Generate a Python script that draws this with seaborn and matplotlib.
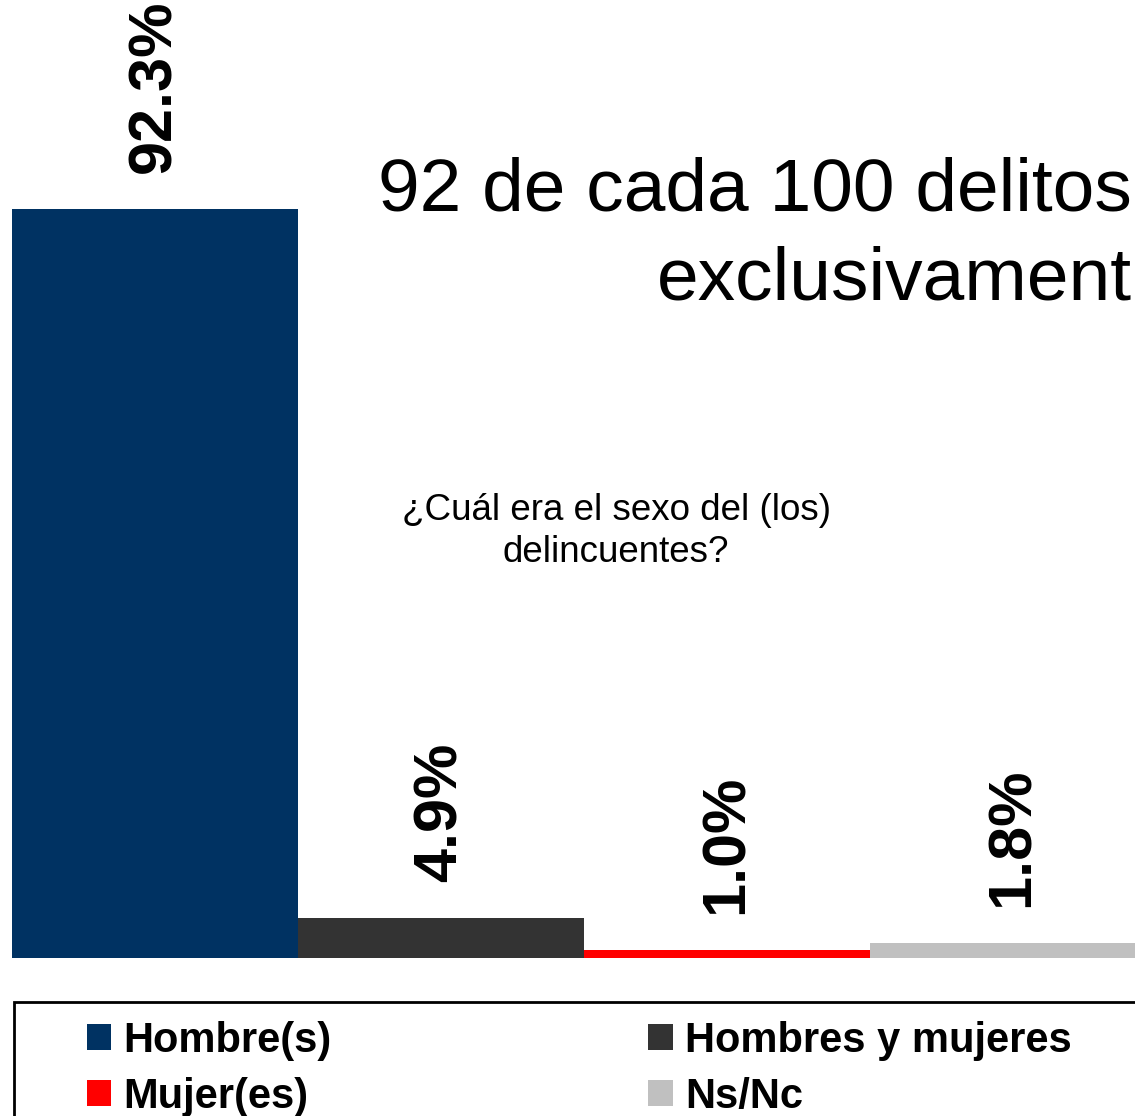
import matplotlib
matplotlib.use("Agg")
import matplotlib.pyplot as plt
from matplotlib.patches import Patch, Rectangle
import seaborn as sns
import pandas as pd

# Data
categories = ["Hombre(s)", "Hombres y mujeres", "Mujer(es)", "Ns/Nc"]
values = [92.3, 4.9, 1.0, 1.8]
colors = ["#003262", "#333333", "#FF0000", "#C0C0C0"]
title_lines = ["92 de cada 100 delitos", "exclusivament"]
question_lines = ["¿Cuál era el sexo del (los)", "delincuentes?"]

sns.set_style("white")
plt.rcParams["font.family"] = ["Liberation Sans", "DejaVu Sans"]
plt.rcParams["text.color"] = "black"

W, H = 1135, 1116
fig = plt.figure(figsize=(W / 100, H / 100), dpi=100)
ax = fig.add_axes([12 / W, 158 / H, 1144 / W, 811.5 / H])

df = pd.DataFrame({"cat": categories, "val": values})
sns.barplot(data=df, x="cat", y="val", hue="cat", palette=colors,
            width=1.0, saturation=1, legend=False, linewidth=0, ax=ax)

ax.set_xlim(-0.5, 3.5)
ax.set_ylim(0, 100)
ax.set_xlabel("")
ax.set_ylabel("")
ax.set_xticks([])
ax.set_yticks([])
for s in ax.spines.values():
    s.set_visible(False)

# rotated value labels above bars
for i, v in enumerate(values):
    ax.annotate(f"{v}%", xy=(i, v), xytext=(0, 26), textcoords="offset points",
                rotation=90, ha="center", va="bottom", fontsize=44,
                fontweight="bold", color="black", annotation_clip=False)

# headline text, right aligned and cut at the edge
fig.text(1132 / W, 1 - 210 / H, title_lines[0], ha="right", va="baseline", fontsize=54)
fig.text(1132 / W, 1 - 300 / H, title_lines[1], ha="right", va="baseline", fontsize=54)

# question text
fig.text(616 / W, 1 - 510 / H, question_lines[0], ha="center", va="center", fontsize=26.5)
fig.text(616 / W, 1 - 552 / H, question_lines[1], ha="center", va="center", fontsize=26.5)

# legend frame
fig.patches.append(Rectangle((14 / W, -0.05), 1.2, (1116 - 1002) / H + 0.05,
                             transform=fig.transFigure, fill=False,
                             edgecolor="black", linewidth=2))

handles = [Patch(facecolor=c, edgecolor="none") for c in colors]
order = [0, 2, 1, 3]
fig.legend([handles[k] for k in order], [categories[k] for k in order],
           loc="upper left", bbox_to_anchor=(66 / W, 1 - 1000 / H), ncol=2,
           frameon=False, prop={"weight": "bold", "size": 30},
           handlelength=0.58, handleheight=0.58, handletextpad=0.3,
           columnspacing=7.6, labelspacing=0.38, borderpad=0)

fig.savefig("out.png", dpi=100)
